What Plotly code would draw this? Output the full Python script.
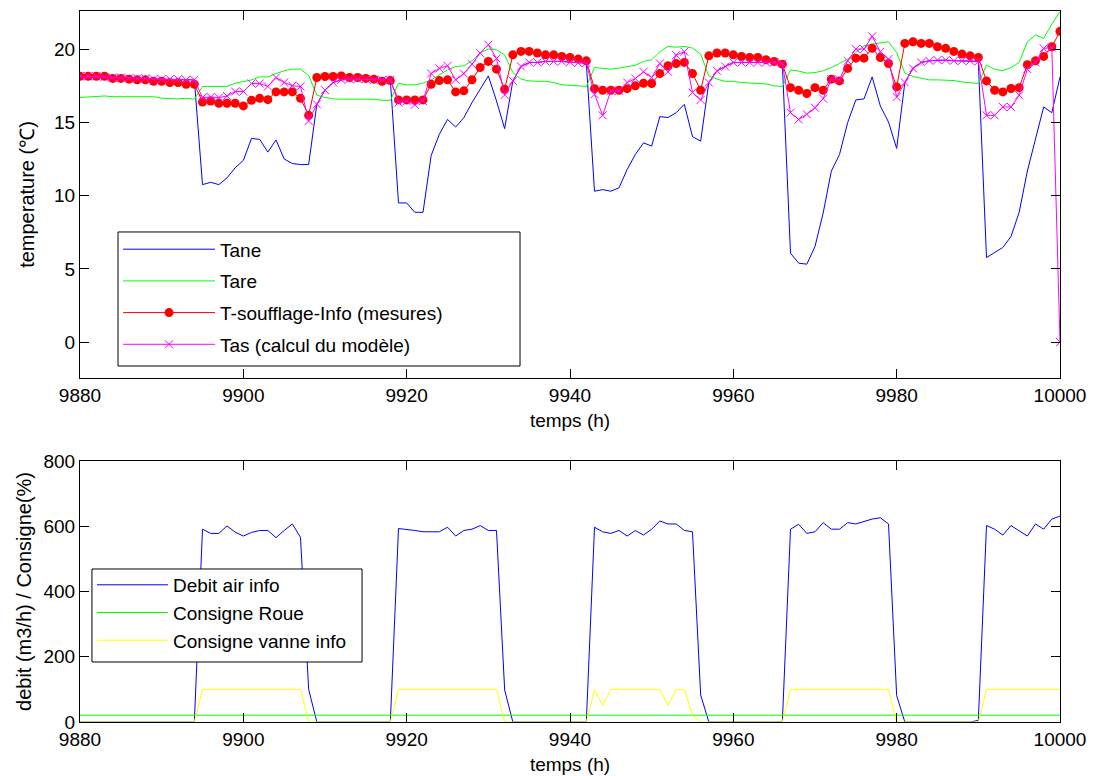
import plotly.graph_objects as go

# hourly time axis
temps = list(range(9880, 10001))

# top chart - temperatures (C)
tane = [18.15, 18.15, 18.15, 18.1, 18.05, 18.05, 18.0, 18.0, 18.0, 17.95,
        17.95, 17.95, 17.95, 17.9, 17.9, 10.75, 10.91, 10.75, 11.21, 11.9,
        12.4, 13.9, 13.84, 12.97, 13.8, 12.5, 12.19, 12.12, 12.12, 16.23,
        17.2, 17.72, 17.9, 17.95, 17.95, 17.95, 17.9, 17.9, 17.9, 9.5,
        9.5, 8.86, 8.86, 12.74, 14.18, 15.2, 14.68, 15.32, 16.35, 17.26,
        18.17, 16.46, 14.57, 17.83, 18.81, 19.09, 19.09, 19.16, 19.16, 19.16,
        19.1, 19.05, 19.05, 10.3, 10.41, 10.3, 10.53, 11.78, 12.81, 13.6,
        13.38, 15.39, 15.33, 15.66, 16.23, 14.02, 13.72, 17.72, 18.52, 18.81,
        19.09, 19.09, 19.09, 19.09, 19.09, 19.09, 19.02, 6.07, 5.39, 5.32,
        6.53, 8.81, 11.67, 12.81, 14.98, 16.53, 16.6, 18.1, 16.12, 15.02,
        13.22, 17.72, 18.68, 19.09, 19.2, 19.25, 19.25, 19.2, 19.2, 19.2,
        19.16, 5.77, 6.12, 6.46, 7.21, 8.86, 11.67, 13.84, 16.05, 15.66,
        18.1]

tare = [16.7, 16.75, 16.8, 16.8, 16.75, 16.75, 16.75, 16.75, 16.75, 16.75,
        16.65, 16.6, 16.6, 16.65, 16.58, 17.45, 17.45, 17.45, 17.45, 17.67,
        17.8, 17.9, 18.1, 18.1, 18.33, 18.52, 18.63, 18.63, 18.2, 16.85,
        16.7, 16.6, 16.58, 16.58, 16.58, 16.58, 16.58, 16.5, 16.5, 17.67,
        17.56, 17.56, 17.67, 17.9, 18.24, 18.58, 18.81, 18.86, 19.2, 19.73,
        20.0, 19.95, 19.61, 18.4, 17.95, 17.83, 17.8, 17.8, 17.72, 17.56,
        17.53, 17.49, 17.45, 18.74, 18.7, 18.63, 18.7, 18.81, 18.9, 19.16,
        19.27, 19.82, 20.18, 20.13, 20.18, 20.07, 19.66, 18.17, 17.95, 17.8,
        17.8, 17.72, 17.7, 17.65, 17.62, 17.49, 17.45, 18.58, 18.5, 18.36,
        18.4, 18.52, 18.74, 19.02, 19.32, 19.77, 20.23, 20.34, 20.4, 20.5,
        19.77, 18.36, 18.13, 18.02, 17.9, 17.9, 17.9, 17.85, 17.76, 17.7,
        17.65, 18.9, 18.63, 18.52, 18.74, 19.09, 20.5, 20.96, 20.73, 21.71,
        22.55]

t_soufflage = [18.15, 18.15, 18.15, 18.15, 18.0, 18.0, 17.95, 17.9, 17.9, 17.8,
               17.8, 17.72, 17.72, 17.6, 17.6, 16.39, 16.46, 16.3, 16.3, 16.3,
               16.12, 16.5, 16.64, 16.55, 17.08, 17.08, 17.08, 16.64, 15.48, 18.06,
               18.13, 18.13, 18.17, 18.06, 18.06, 18.0, 17.95, 17.8, 17.85, 16.53,
               16.53, 16.53, 16.53, 17.6, 17.85, 17.9, 17.08, 17.15, 17.9, 18.74,
               19.16, 18.63, 17.26, 19.61, 19.84, 19.84, 19.73, 19.61, 19.61, 19.5,
               19.43, 19.32, 19.2, 17.3, 17.19, 17.19, 17.19, 17.3, 17.49, 17.67,
               17.65, 18.33, 18.86, 19.02, 19.09, 18.33, 17.19, 19.54, 19.73, 19.73,
               19.61, 19.5, 19.43, 19.43, 19.27, 19.16, 18.97, 17.37, 17.19, 16.97,
               17.37, 17.19, 17.95, 17.83, 18.68, 19.38, 19.38, 20.05, 19.43, 19.02,
               17.42, 20.39, 20.5, 20.39, 20.39, 20.16, 20.05, 19.84, 19.66, 19.54,
               19.43, 17.83, 17.19, 17.08, 17.31, 17.37, 18.93, 19.2, 19.5, 20.16,
               21.21]

tas = [18.15, 18.15, 18.15, 18.1, 18.05, 18.05, 18.0, 18.0, 18.0, 17.95,
       17.95, 17.95, 17.95, 17.9, 17.9, 16.69, 16.73, 16.69, 16.8, 17.1,
       17.1, 17.65, 17.65, 17.45, 18.06, 17.72, 17.5, 17.45, 15.09, 16.23,
       17.2, 17.72, 17.9, 17.95, 17.95, 17.95, 17.9, 17.9, 17.9, 16.35,
       16.45, 16.2, 16.45, 18.33, 18.68, 18.86, 17.9, 18.33, 18.97, 19.73,
       20.3, 19.36, 16.87, 17.83, 18.81, 19.09, 19.09, 19.16, 19.16, 19.16,
       19.1, 19.05, 19.05, 16.92, 15.48, 17.15, 17.15, 17.72, 17.99, 18.45,
       18.06, 19.02, 18.45, 19.59, 19.82, 17.03, 16.53, 17.72, 18.52, 18.81,
       19.09, 19.09, 19.09, 19.09, 19.09, 19.09, 19.02, 15.66, 15.2, 15.55,
       16.0, 16.62, 17.95, 17.9, 19.2, 20.0, 20.0, 20.87, 19.82, 19.32,
       16.73, 17.72, 18.68, 19.09, 19.2, 19.25, 19.25, 19.2, 19.2, 19.2,
       19.16, 15.48, 15.48, 16.05, 16.05, 16.85, 18.63, 19.09, 20.05, 20.1,
       0.0]

# bottom chart - air flow and set points
debit_air = [0, 0, 0, 0, 0, 0, 0, 0, 0, 0,
             0, 0, 0, 0, 0, 591, 578, 578, 601, 582,
             570, 581, 587, 587, 565, 587, 607, 566, 100, 0,
             0, 0, 0, 0, 0, 0, 0, 0, 0, 593,
             591, 587, 583, 583, 583, 597, 570, 587, 591, 602,
             587, 587, 98, 0, 0, 0, 0, 0, 0, 0,
             0, 0, 0, 597, 583, 578, 587, 570, 587, 573,
             591, 616, 607, 607, 587, 583, 83, 0, 0, 0,
             0, 0, 0, 0, 0, 0, 0, 591, 606, 578,
             583, 611, 591, 591, 611, 607, 614, 622, 626, 607,
             81, 0, 0, 0, 0, 0, 0, 0, 0, 0,
             5, 602, 591, 573, 602, 585, 570, 607, 591, 622,
             631]

consigne_roue = [21] * 121

consigne_vanne = [0, 0, 0, 0, 0, 0, 0, 0, 0, 0,
                  0, 0, 0, 0, 0, 100, 100, 100, 100, 100,
                  100, 100, 100, 100, 100, 100, 100, 100, 0, 0,
                  0, 0, 0, 0, 0, 0, 0, 0, 0, 100,
                  100, 100, 100, 100, 100, 100, 100, 100, 100, 100,
                  100, 100, 0, 0, 0, 0, 0, 0, 0, 0,
                  0, 0, 0, 100, 50, 100, 100, 100, 100, 100,
                  100, 100, 50, 100, 100, 20, 0, 0, 0, 0,
                  0, 0, 0, 0, 0, 0, 0, 100, 100, 100,
                  100, 100, 100, 100, 100, 100, 100, 100, 100, 100,
                  0, 0, 0, 0, 0, 0, 0, 0, 0, 0,
                  0, 100, 100, 100, 100, 100, 100, 100, 100, 100,
                  100]

FONT = "Liberation Sans, Arial, sans-serif"

fig = go.Figure()

fig.add_trace(go.Scatter(x=temps, y=tane, mode='lines', name='Tane',
                         line=dict(color='#0000FF', width=1),
                         legendgroup='a', legend='legend'))
fig.add_trace(go.Scatter(x=temps, y=tare, mode='lines', name='Tare',
                         line=dict(color='#00FF00', width=1),
                         legendgroup='b', legend='legend'))
fig.add_trace(go.Scatter(x=temps, y=t_soufflage, mode='lines+markers',
                         name='T-soufflage-Info (mesures)',
                         line=dict(color='#FF0000', width=1),
                         marker=dict(symbol='circle', size=9, color='#FF0000'),
                         legendgroup='c', legend='legend'))
fig.add_trace(go.Scatter(x=temps, y=tas, mode='lines+markers',
                         name='Tas (calcul du modèle)',
                         line=dict(color='#FF00FF', width=1),
                         marker=dict(symbol='x-thin', size=8,
                                     line=dict(color='#FF00FF', width=1)),
                         legendgroup='d', legend='legend'))

fig.add_trace(go.Scatter(x=temps, y=debit_air, mode='lines', name='Debit air info',
                         line=dict(color='#0000FF', width=1),
                         xaxis='x2', yaxis='y2', legendgroup='e', legend='legend2'))
fig.add_trace(go.Scatter(x=temps, y=consigne_roue, mode='lines', name='Consigne Roue',
                         line=dict(color='#00FF00', width=1),
                         xaxis='x2', yaxis='y2', legendgroup='f', legend='legend2'))
fig.add_trace(go.Scatter(x=temps, y=consigne_vanne, mode='lines', name='Consigne vanne info',
                         line=dict(color='#FFFF00', width=1),
                         xaxis='x2', yaxis='y2', legendgroup='g', legend='legend2'))

axis_style = dict(showline=True, linecolor='black', linewidth=1, mirror='ticks',
                  ticks='inside', ticklen=9, tickcolor='black', showgrid=False,
                  zeroline=False, automargin=False,
                  tickfont=dict(size=19, color='black'))

# legend frames (MATLAB style boxes), drawn behind the legend text
frames = [
    dict(type='rect', xref='paper', yref='paper', x0=0.0388, x1=0.449, y0=0.5007, y1=0.6892,
         line=dict(color='black', width=1), fillcolor='white', layer='above'),
    dict(type='rect', xref='paper', yref='paper', x0=0.0122, x1=0.2878, y0=0.0844, y1=0.2152,
         line=dict(color='black', width=1), fillcolor='white', layer='above'),
]

# the page body adds an 8px offset, margins compensate for it
fig.update_layout(
    width=1097, height=776,
    margin=dict(l=72, r=45, t=3, b=62),
    paper_bgcolor='white', plot_bgcolor='white',
    font=dict(family=FONT, size=19, color='black'),
    shapes=frames,
    xaxis=dict(domain=[0, 1], anchor='y', range=[9880, 10000], tickformat='d',
               tickvals=[9880, 9900, 9920, 9940, 9960, 9980, 10000],
               title=dict(text='temps (h)', standoff=8, font=dict(size=19)), **axis_style),
    yaxis=dict(domain=[0.4838, 1], anchor='x', range=[-2.45, 22.6],
               tickvals=[0, 5, 10, 15, 20],
               title=dict(text='temperature (℃)', standoff=14, font=dict(size=20)), **axis_style),
    xaxis2=dict(domain=[0, 1], anchor='y2', range=[9880, 10000], tickformat='d',
                tickvals=[9880, 9900, 9920, 9940, 9960, 9980, 10000],
                title=dict(text='temps (h)', standoff=8, font=dict(size=19)), **axis_style),
    yaxis2=dict(domain=[0, 0.3671], anchor='x2', range=[0, 800],
                tickvals=[0, 200, 400, 600, 800],
                title=dict(text='debit (m3/h) / Consigne(%)', standoff=6, font=dict(size=20)),
                **axis_style),
    legend=dict(x=0.0388, y=0.6915, xanchor='left', yanchor='top',
                bgcolor='rgba(0,0,0,0)', borderwidth=0,
                tracegroupgap=4, font=dict(size=19), itemwidth=92),
    legend2=dict(x=0.0122, y=0.2195, xanchor='left', yanchor='top',
                 bgcolor='rgba(0,0,0,0)', borderwidth=0,
                 tracegroupgap=0, font=dict(size=19), itemwidth=71),
)

fig.write_html("out.html")
